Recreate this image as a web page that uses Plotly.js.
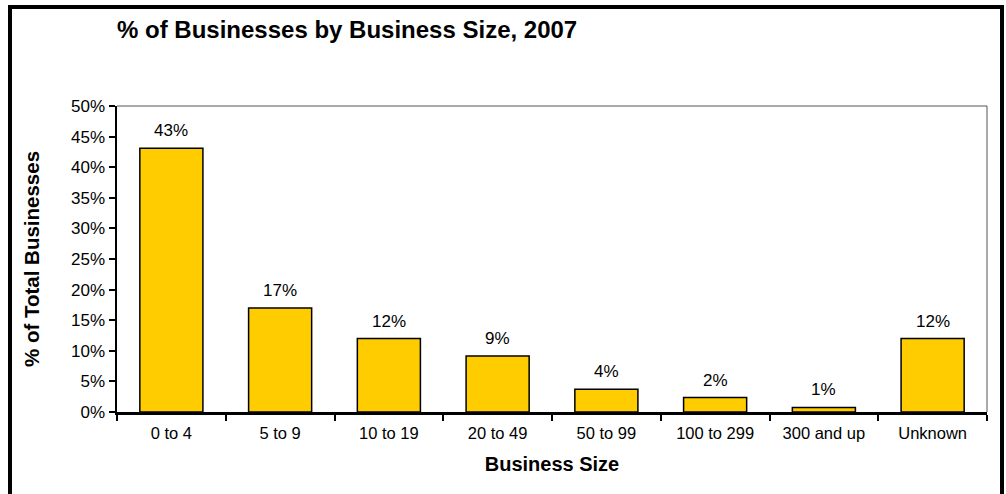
<!DOCTYPE html>
<html>
<head>
<meta charset="utf-8">
<script src="https://cdn.plot.ly/plotly-3.0.1.min.js"></script>
<style>
  html, body { margin: 0; padding: 0; background: #fff; }
  #chart { width: 1006px; height: 494px; }
</style>
</head>
<body>
<div id="chart"></div>
<script>
const categories = ["0 to 4", "5 to 9", "10 to 19", "20 to 49", "50 to 99", "100 to 299", "300 and up", "Unknown"];
const shareValues = [43.1, 17.0, 12.0, 9.15, 3.7, 2.35, 0.75, 12.0];
const valueLabels = ["43%", "17%", "12%", "9%", "4%", "2%", "1%", "12%"];
const yTickValues = [0, 5, 10, 15, 20, 25, 30, 35, 40, 45, 50];
const yTickLabels = ["0%", "5%", "10%", "15%", "20%", "25%", "30%", "35%", "40%", "45%", "50%"];

const FONT = "Liberation Sans, Arial, sans-serif";

const trace = {
  type: "bar",
  x: categories,
  y: shareValues,
  marker: { color: "#FFCC00", line: { color: "#000000", width: 1.5 } },
  hoverinfo: "skip"
};

const annotations = categories.map((c, i) => ({
  x: c, y: shareValues[i], xref: "x", yref: "y",
  text: valueLabels[i], showarrow: false,
  yanchor: "bottom", yshift: 6,
  font: { family: FONT, size: 17, color: "#000" }
}));

const W = 870, H = 306; // plot area px for frame placement
const px = v => (v - 117) / W;
const py = v => (412 - v) / H;

const layout = {
  width: 1006, height: 494,
  margin: { l: 117, r: 19, t: 106, b: 82 },
  paper_bgcolor: "#fff", plot_bgcolor: "#fff",
  showlegend: false,
  bargap: 0.42,
  title: {
    text: "% of Businesses by Business Size, 2007",
    font: { family: FONT, size: 24, color: "#000", weight: "bold" },
    xref: "paper", x: 0, xanchor: "left",
    yref: "container", y: 1 - 30 / 494, yanchor: "middle"
  },
  xaxis: {
    type: "category",
    tickson: "boundaries",
    ticks: "outside", ticklen: 6, tickwidth: 2, tickcolor: "#000",
    ticklabelstandoff: 5,
    showline: true, linecolor: "#000", linewidth: 2.5,
    showgrid: false, zeroline: false,
    tickfont: { family: FONT, size: 16.5, color: "#000" },
    title: {
      text: "Business Size",
      font: { family: FONT, size: 20, color: "#000", weight: "bold" },
      standoff: 16
    },
    fixedrange: true
  },
  yaxis: {
    range: [0, 50],
    tickmode: "array",
    tickvals: yTickValues,
    ticktext: yTickLabels,
    ticks: "outside", ticklen: 6, tickwidth: 2, tickcolor: "#000",
    showline: true, linecolor: "#000", linewidth: 2.5,
    showgrid: false, zeroline: false,
    tickfont: { family: FONT, size: 17, color: "#000" },
    title: {
      text: "% of Total Businesses",
      font: { family: FONT, size: 20.5, color: "#000", weight: "bold" },
      standoff: 26
    },
    fixedrange: true
  },
  annotations: annotations,
  shapes: [
    { type: "line", xref: "paper", yref: "paper", x0: 0, x1: 1, y0: 1, y1: 1,
      line: { color: "#555", width: 1 } },
    { type: "line", xref: "paper", yref: "paper", x0: 1, x1: 1, y0: 0, y1: 1,
      line: { color: "#555", width: 1 } },
    { type: "rect", xref: "paper", yref: "paper",
      x0: px(10), x1: px(1002), y0: py(520), y1: py(7),
      line: { color: "#000", width: 4 }, fillcolor: "rgba(0,0,0,0)", layer: "above" }
  ]
};

Plotly.newPlot("chart", [trace], layout, { displayModeBar: false, staticPlot: true });
</script>
</body>
</html>
